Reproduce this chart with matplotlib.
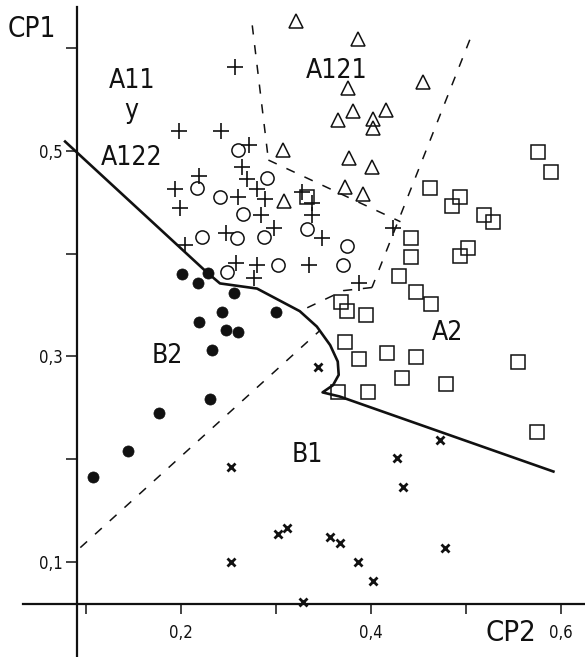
import matplotlib
matplotlib.use("Agg")
from matplotlib import pyplot as plt

# Scores on the first two principal components (CP2 horizontal, CP1 vertical)
plus_x = [0.257, 0.198, 0.242, 0.272, 0.264, 0.269, 0.219, 0.194, 0.260, 0.280,
          0.288, 0.199, 0.284, 0.327, 0.338, 0.338, 0.348, 0.298, 0.247, 0.204,
          0.258, 0.280, 0.277, 0.335, 0.387, 0.423]
plus_y = [0.582, 0.519, 0.519, 0.506, 0.484, 0.473, 0.475, 0.463, 0.455, 0.463,
          0.453, 0.444, 0.438, 0.460, 0.449, 0.438, 0.415, 0.425, 0.420, 0.408,
          0.391, 0.389, 0.376, 0.389, 0.371, 0.425]

circle_x = [0.260, 0.291, 0.217, 0.241, 0.265, 0.333, 0.222, 0.259, 0.287, 0.248,
            0.302, 0.371, 0.375]
circle_y = [0.501, 0.474, 0.464, 0.455, 0.439, 0.424, 0.416, 0.415, 0.416, 0.382,
            0.389, 0.389, 0.407]

tri_x = [0.321, 0.386, 0.376, 0.455, 0.381, 0.365, 0.416, 0.402, 0.402, 0.307,
         0.377, 0.401, 0.373, 0.392, 0.308]
tri_y = [0.626, 0.609, 0.561, 0.567, 0.539, 0.530, 0.540, 0.531, 0.522, 0.501,
         0.493, 0.484, 0.465, 0.458, 0.451]

sq_x = [0.576, 0.589, 0.462, 0.494, 0.485, 0.519, 0.528, 0.442, 0.442, 0.502,
        0.494, 0.429, 0.447, 0.463, 0.368, 0.375, 0.395, 0.373, 0.387, 0.417,
        0.447, 0.433, 0.479, 0.555, 0.365, 0.397, 0.575, 0.333]
sq_y = [0.499, 0.479, 0.464, 0.455, 0.446, 0.438, 0.431, 0.415, 0.397, 0.405,
        0.398, 0.378, 0.363, 0.351, 0.353, 0.344, 0.340, 0.314, 0.297, 0.303,
        0.299, 0.279, 0.273, 0.295, 0.265, 0.265, 0.226, 0.455]

dot_x = [0.201, 0.218, 0.228, 0.256, 0.243, 0.219, 0.247, 0.260, 0.233, 0.300,
         0.231, 0.177, 0.144, 0.107]
dot_y = [0.380, 0.371, 0.381, 0.362, 0.343, 0.333, 0.326, 0.324, 0.306, 0.343,
         0.259, 0.245, 0.208, 0.183]

cross_x = [0.344, 0.253, 0.473, 0.427, 0.434, 0.302, 0.312, 0.357, 0.367, 0.386,
           0.402, 0.328, 0.478, 0.253]
cross_y = [0.290, 0.192, 0.219, 0.201, 0.173, 0.127, 0.133, 0.124, 0.118, 0.100,
           0.082, 0.061, 0.114, 0.100]

# Solid boundary between the A and B groups
bound_x = [0.078, 0.227, 0.241, 0.280, 0.325, 0.343, 0.357, 0.365, 0.366, 0.360,
           0.349, 0.367, 0.592]
bound_y = [0.509, 0.382, 0.371, 0.366, 0.344, 0.329, 0.311, 0.295, 0.282, 0.272,
           0.265, 0.261, 0.188]

# Dashed sub-group boundaries
dash_lines = [
    ([0.275, 0.292], [0.622, 0.491]),
    ([0.292, 0.431], [0.491, 0.431]),
    ([0.504, 0.401], [0.608, 0.367]),
    ([0.401, 0.371, 0.323], [0.367, 0.364, 0.343]),
    ([0.094, 0.346], [0.114, 0.325]),
]

xticks = [0.1, 0.2, 0.3, 0.4, 0.5, 0.6]
xticklabels = ["", "0,2", "", "0,4", "", "0,6"]
yticks = [0.1, 0.2, 0.3, 0.4, 0.5, 0.6]
yticklabels = ["0,1", "", "0,3", "", "0,5", ""]

region_labels = [("A11", 0.148, 0.561), ("y", 0.148, 0.532), ("A122", 0.148, 0.486),
                 ("A121", 0.364, 0.571), ("B2", 0.186, 0.294), ("A2", 0.481, 0.316),
                 ("B1", 0.333, 0.197)]

plt.rcParams["font.family"] = ["DejaVu Sans"]
plt.rcParams["font.stretch"] = "condensed"
INK = "#111111"

fig = plt.figure(figsize=(5.85, 6.57), dpi=100)
ax = fig.add_axes([0, 0, 1, 1])
ax.set_xlim(0.00947, 0.62526)
ax.set_ylim(0.00759, 0.64669)

ax.plot(bound_x, bound_y, color=INK, lw=1.9, solid_joinstyle="round")
for xs, ys in dash_lines:
    ax.plot(xs, ys, color=INK, lw=1.1, dashes=(6, 7))

ax.plot(plus_x, plus_y, ls="none", marker="+", ms=11.5, mew=1.2, color=INK)
ax.plot(circle_x, circle_y, ls="none", marker="o", ms=9.5, mew=1.1, mfc="none", mec=INK)
ax.plot(tri_x, tri_y, ls="none", marker="^", ms=10.5, mew=1.1, mfc="none", mec=INK)
ax.plot(sq_x, sq_y, ls="none", marker="s", ms=9.5, mew=1.1, mfc="none", mec=INK)
ax.plot(dot_x, dot_y, ls="none", marker="o", ms=8, mew=0.5, color=INK)
ax.plot(cross_x, cross_y, ls="none", marker="x", ms=6, mew=2, color=INK)

for txt, x, y in region_labels:
    ax.text(x, y, txt, fontsize=19, ha="center", va="baseline", color=INK)
ax.text(0.043, 0.611, "CP1", fontsize=20, ha="center", va="baseline", color=INK)
ax.text(0.547, 0.023, "CP2", fontsize=21, ha="center", va="baseline", color=INK)

# crossed axes like the hand-drawn original
for side in ["top", "right"]:
    ax.spines[side].set_visible(False)
ax.spines["left"].set_position(("data", 0.0905))
ax.spines["left"].set_bounds(0.00759, 0.640)
ax.spines["bottom"].set_position(("data", 0.059))
ax.spines["bottom"].set_bounds(0.034, 0.62526)
for side in ["left", "bottom"]:
    ax.spines[side].set_linewidth(1.6)
    ax.spines[side].set_color(INK)

ax.set_xticks(xticks, labels=xticklabels)
ax.set_yticks(yticks, labels=yticklabels)
ax.tick_params(axis="x", direction="out", length=7, width=1.1, pad=7, labelsize=12, colors=INK)
ax.tick_params(axis="y", direction="out", length=8, width=1.1, pad=2, labelsize=12, colors=INK)

fig.savefig("out.png", dpi=100)
